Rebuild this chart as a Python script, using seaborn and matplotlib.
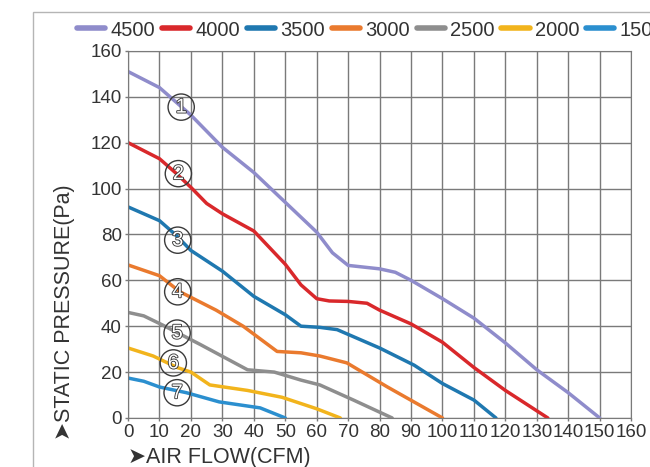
import numpy as np
import matplotlib.pyplot as plt
import matplotlib.patheffects as pe
import seaborn as sns
import pandas as pd
from matplotlib.patches import Rectangle

speeds = ['4500', '4000', '3500', '3000', '2500', '2000', '1500']
colors = ['#8f8ccb', '#d9282b', '#1f78b0', '#ea7a2e', '#8e8e8e', '#f2b41c', '#2b8fcf']

flow_4500 = [0, 10, 15, 20, 30, 40, 50, 60, 65, 70, 80, 85, 90, 100, 110, 120, 130, 140, 150]
pres_4500 = [151, 144, 138, 132, 118, 107, 94, 81, 72, 66.5, 65, 63.5, 60, 52, 43.5, 32.7, 21, 11, 0]
flow_4000 = [0, 10, 15, 20, 25, 30, 40, 50, 55, 60, 64, 70, 76, 80, 90, 100, 110, 120, 133.5]
pres_4000 = [120, 113, 107, 100.5, 93.5, 89, 81.5, 67, 58, 52, 51, 50.8, 50, 47, 41, 33, 22, 12, 0]
flow_3500 = [0, 10, 15, 20, 30, 40, 50, 55, 61, 66.5, 80, 91, 100, 110, 117]
pres_3500 = [92, 86, 80, 73, 64, 53, 45, 40, 39.5, 38.5, 30.5, 23, 15, 7.8, 0]
flow_3000 = [0, 10, 16.5, 28, 36.6, 47.4, 55, 61, 69.6, 82.5, 100]
pres_3000 = [66.7, 62, 55, 47, 40, 29, 28.4, 27, 24, 13.5, 0]
flow_2500 = [0, 5, 11, 23, 38, 46.5, 55, 61, 71.7, 84]
pres_2500 = [46, 44.5, 40.5, 32, 21, 20, 16.5, 14.4, 7.8, 0]
flow_2000 = [0, 8, 15.6, 20, 26, 38, 49, 60, 67.5]
pres_2000 = [30.5, 27, 22, 20, 14.4, 12, 9, 4, 0]
flow_1500 = [0, 5, 10, 18.6, 29, 42, 50]
pres_1500 = [17.4, 16, 13.5, 11, 7, 4.4, 0]

flows = [flow_4500, flow_4000, flow_3500, flow_3000, flow_2500, flow_2000, flow_1500]
pressures = [pres_4500, pres_4000, pres_3500, pres_3000, pres_2500, pres_2000, pres_1500]

marker_labels = ['1', '2', '3', '4', '5', '6', '7']
marker_x = [16.9, 16, 15.8, 15.8, 15.6, 14.4, 15.6]
marker_y = [135.5, 106.5, 77.5, 55, 37, 24, 11]

rows = []
for s, fl, pr in zip(speeds, flows, pressures):
    for a, b in zip(fl, pr):
        rows.append({'speed': s, 'flow': a, 'pressure': b})
df = pd.DataFrame(rows)

sns.set_style('white')
plt.rcParams['font.family'] = ['Liberation Sans', 'DejaVu Sans']

fig = plt.figure(figsize=(6.5, 4.67), dpi=100)
ax = fig.add_axes([0.197, 0.105, 0.774, 0.786])

# light frame around the figure (top and left edges visible)
fig.patches.append(Rectangle((33 / 650, -0.1), 2, 1 - 12 / 467 + 0.1, transform=fig.transFigure,
                             fill=False, edgecolor='#b5b5b5', linewidth=1))

sns.lineplot(data=df, x='flow', y='pressure', hue='speed', hue_order=speeds,
             palette=dict(zip(speeds, colors)), sort=False, estimator=None,
             linewidth=2.5, ax=ax, legend=False)

for lab, xx, yy in zip(marker_labels, marker_x, marker_y):
    t = ax.text(xx, yy, lab, ha='center', va='center', fontsize=14.5, color='white',
                bbox=dict(boxstyle='circle,pad=0.18', fc='none', ec='#3a3a3a', lw=1))
    t.set_path_effects([pe.Stroke(linewidth=1.3, foreground='#3a3a3a'), pe.Normal()])

ax.set_xlim(0, 160)
ax.set_ylim(0, 160)
ax.set_xticks(range(0, 161, 10))
ax.set_yticks(range(0, 161, 20))
ax.grid(True, color='#7a7a7a', linewidth=1)
for sp in ax.spines.values():
    sp.set_color('#7a7a7a')
ax.tick_params(labelsize=13.5, labelcolor='#333333', color='#7a7a7a', length=2.5, width=1,
               direction='out', pad=2)
ax.tick_params(axis='y', left=True)
ax.tick_params(axis='x', bottom=True)
ax.set_xlabel('➤AIR FLOW(CFM)', fontsize=15.5, color='#333333', loc='left')
ax.set_ylabel('➤STATIC PRESSURE(Pa)', fontsize=15.5, color='#333333', loc='bottom')
ax.xaxis.set_label_coords(0.0, -0.078)
ax.yaxis.set_label_coords(-0.105, -0.06)

handles = [plt.Line2D([], [], color=c, linewidth=4) for c in colors]
fig.legend(handles, speeds, loc='center left', bbox_to_anchor=(77 / 650, 1 - 30 / 467),
           ncol=7, frameon=False, fontsize=14.5, handlelength=1.4, handletextpad=0.25,
           columnspacing=0.35, labelcolor='#333333', borderaxespad=0, borderpad=0)

fig.savefig('out.png', dpi=100)
